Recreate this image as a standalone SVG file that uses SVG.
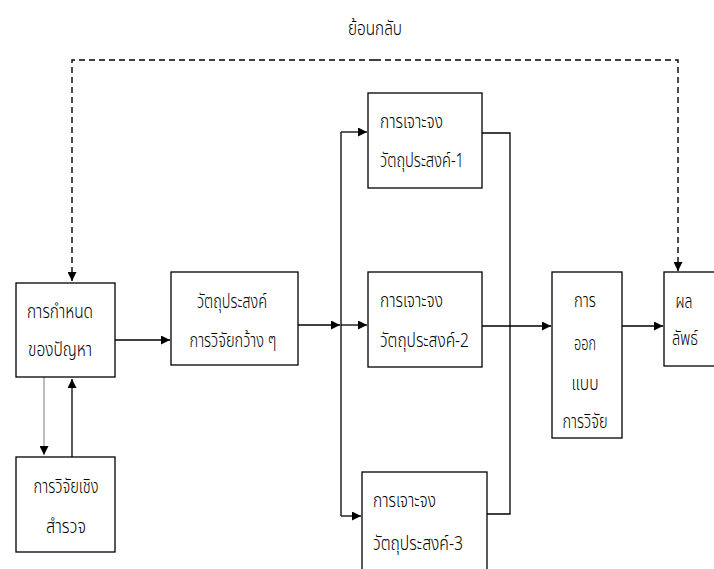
<svg xmlns="http://www.w3.org/2000/svg" width="714" height="569" viewBox="0 0 714 569">
  <style>
    .box { fill: #ffffff; stroke: #000000; stroke-width: 1.3; }
    .lbl { font-family: "Noto Sans Thai", "Noto Sans", "DejaVu Sans", sans-serif; font-size: 20px; font-weight: 300; fill: #000000; }
    .mid { text-anchor: middle; }
    .line { fill: none; stroke: #000000; stroke-width: 1.3; }
    .dash { fill: none; stroke: #000000; stroke-width: 1.4; stroke-dasharray: 6 4; }
    .gray { fill: none; stroke: #9a9a9a; stroke-width: 1.3; }
  </style>
  <defs>
    <marker id="arrow" viewBox="0 0 10 10" refX="10" refY="5" markerWidth="9" markerHeight="9" markerUnits="userSpaceOnUse" orient="auto">
      <path d="M0,0 L10,5 L0,10 Z" fill="#000000"/>
    </marker>
  </defs>

  <rect width="714" height="569" fill="#ffffff"/>

  <text class="lbl mid" x="375" y="35" textLength="54" lengthAdjust="spacingAndGlyphs">ย้อนกลับ</text>

  <g id="connectors">
    <!-- feedback loop -->
    <path class="dash" d="M375,60 H72 V281" marker-end="url(#arrow)"/>
    <path class="dash" d="M375,60 H678 V271" marker-end="url(#arrow)"/>
    <!-- problem definition <-> survey research -->
    <path class="gray" d="M44,377 V455" marker-end="url(#arrow)"/>
    <path class="line" d="M72,457 V379" marker-end="url(#arrow)"/>
    <!-- problem -> broad objective -->
    <path class="line" d="M115,340 H170" marker-end="url(#arrow)"/>
    <!-- broad objective -> split trunk -->
    <path class="line" d="M298,325 H340" marker-end="url(#arrow)"/>
    <path class="line" d="M341,132 V516"/>
    <path class="line" d="M341,132 H367" marker-end="url(#arrow)"/>
    <path class="line" d="M341,325 H367" marker-end="url(#arrow)"/>
    <path class="line" d="M341,516 H361" marker-end="url(#arrow)"/>
    <!-- specific objectives -> merge trunk -->
    <path class="line" d="M482,133 H510 V514 H487"/>
    <path class="line" d="M482,326 H551" marker-end="url(#arrow)"/>
    <!-- research design -> result -->
    <path class="line" d="M608,326 H663" marker-end="url(#arrow)"/>
  </g>

  <g id="problem">
    <rect class="box" x="16" y="283" width="99" height="94"/>
    <text class="lbl mid" x="60" y="318" textLength="66" lengthAdjust="spacingAndGlyphs">การกำหนด</text>
    <text class="lbl mid" x="60" y="356" textLength="64" lengthAdjust="spacingAndGlyphs">ของปัญหา</text>
  </g>

  <g id="survey">
    <rect class="box" x="16" y="457" width="99" height="95"/>
    <text class="lbl mid" x="66" y="493" textLength="65" lengthAdjust="spacingAndGlyphs">การวิจัยเชิง</text>
    <text class="lbl mid" x="66" y="533" textLength="40" lengthAdjust="spacingAndGlyphs">สำรวจ</text>
  </g>

  <g id="broad-objective">
    <rect class="box" x="171" y="272" width="127" height="93"/>
    <text class="lbl mid" x="232" y="308" textLength="70" lengthAdjust="spacingAndGlyphs">วัตถุประสงค์</text>
    <text class="lbl mid" x="233" y="347" textLength="87" lengthAdjust="spacingAndGlyphs">การวิจัยกว้าง ๆ</text>
  </g>

  <g id="objective-1">
    <rect class="box" x="368" y="93" width="114" height="95"/>
    <text class="lbl" x="380" y="128" textLength="63" lengthAdjust="spacingAndGlyphs">การเจาะจง</text>
    <text class="lbl" x="380" y="167" textLength="84" lengthAdjust="spacingAndGlyphs">วัตถุประสงค์-1</text>
  </g>

  <g id="objective-2">
    <rect class="box" x="368" y="272" width="114" height="95"/>
    <text class="lbl" x="380" y="307" textLength="63" lengthAdjust="spacingAndGlyphs">การเจาะจง</text>
    <text class="lbl" x="380" y="347" textLength="89" lengthAdjust="spacingAndGlyphs">วัตถุประสงค์-2</text>
  </g>

  <g id="objective-3">
    <rect class="box" x="362" y="472" width="125" height="110"/>
    <text class="lbl" x="373" y="507" textLength="63" lengthAdjust="spacingAndGlyphs">การเจาะจง</text>
    <text class="lbl" x="373" y="550" textLength="90" lengthAdjust="spacingAndGlyphs">วัตถุประสงค์-3</text>
  </g>

  <g id="research-design">
    <rect class="box" x="552" y="272" width="70" height="166"/>
    <text class="lbl mid" x="585" y="307" textLength="22" lengthAdjust="spacingAndGlyphs">การ</text>
    <text class="lbl mid" x="585" y="350" textLength="22" lengthAdjust="spacingAndGlyphs">ออก</text>
    <text class="lbl mid" x="585" y="390" textLength="27" lengthAdjust="spacingAndGlyphs">แบบ</text>
    <text class="lbl mid" x="585" y="428" textLength="45" lengthAdjust="spacingAndGlyphs">การวิจัย</text>
  </g>

  <g id="result">
    <rect class="box" x="664" y="272" width="60" height="94"/>
    <text class="lbl mid" x="684" y="308" textLength="17" lengthAdjust="spacingAndGlyphs">ผล</text>
    <text class="lbl mid" x="685" y="345" textLength="26" lengthAdjust="spacingAndGlyphs">ลัพธ์</text>
  </g>
</svg>
